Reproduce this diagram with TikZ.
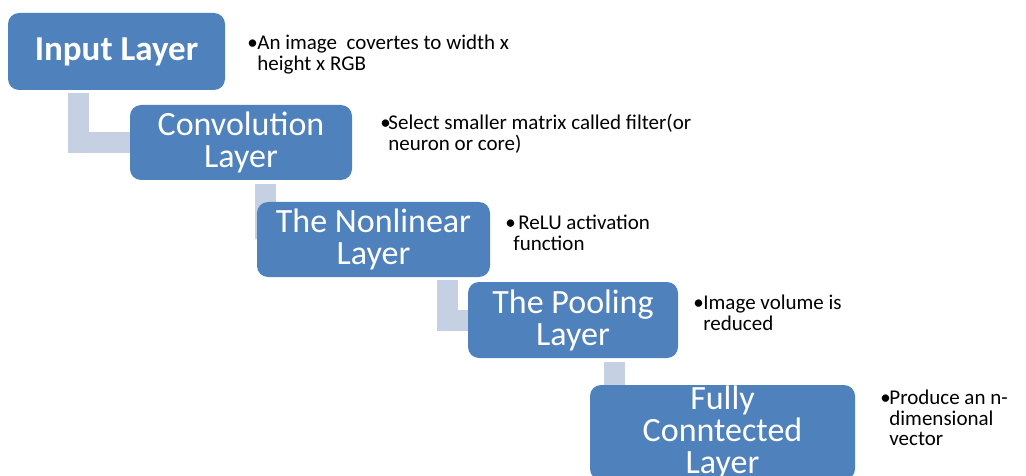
\documentclass[tikz,border=0pt]{standalone}
\usepackage{fontspec}
\setmainfont{Carlito}
\usepackage{tikz}
\usetikzlibrary{positioning, backgrounds}

\definecolor{layerblue}{RGB}{79,129,189}
\definecolor{barcolor}{RGB}{197,208,227}

\begin{document}
\begin{tikzpicture}[x=1pt, y=-1pt]
  \tikzstyle{layer}=[rounded corners=11pt, fill=layerblue, text=white, align=center,
  font=\fontsize{34}{32}\selectfont, inner sep=0pt]
  \tikzstyle{note}=[anchor=base west, align=left, inner sep=0pt,
  font=\fontsize{21}{20.5}\selectfont]
  \tikzstyle{bendbar}=[draw=barcolor, line width=21pt]

  \useasboundingbox (0, 0) rectangle (1026, 476);

  \node (inl) at (116.5, 51.5) [layer, minimum width=217pt, minimum height=77pt,
  font=\fontsize{35}{32}\selectfont\bfseries] {Input Layer};
  \node (conv) at (241, 142.5) [layer, minimum width=222pt, minimum height=75pt] {Convolution\\Layer};
  \node (nonlin) at (373.5, 239.5) [layer, minimum width=233pt, minimum height=75pt] {The Nonlinear\\Layer};
  \node (pool) at (573, 320) [layer, minimum width=210pt, minimum height=76pt] {The Pooling\\Layer};
  \node (fc) at (722.5, 432.5) [layer, minimum width=265pt, minimum height=95pt] {Fully\\Conntected\\Layer};

  \begin{scope}[on background layer]
    \draw [bendbar] ([xshift=71pt, yshift=-3pt]inl.south west) |- (conv.west);
    \draw [bendbar] ([xshift=136pt, yshift=-4pt]conv.south west) |- (nonlin.west);
    \draw [bendbar] ([xshift=191pt, yshift=-3pt]nonlin.south west) |- (pool.west);
    \draw [bendbar] ([xshift=147pt, yshift=-4pt]pool.south west) |- (fc.west);
  \end{scope}

  \node (inltxt) at ([xshift=22pt, yshift=-57.5pt]inl.north east) [note]
  {\makebox[10pt][l]{•}An image\ \ covertes to width x\\\hspace*{10pt}height x RGB};
  \node (convtxt) at ([xshift=28pt, yshift=-45.5pt]conv.north east) [note]
  {\makebox[8pt][l]{•}Select smaller matrix called filter(or\\\hspace*{8pt}neuron or core)};
  \node (nonlintxt) at ([xshift=15pt, yshift=-48.5pt]nonlin.north east) [note]
  {\makebox[8pt][l]{•}\hspace{5pt}ReLU activation\\\hspace*{8pt}function};
  \node (pooltxt) at ([xshift=15pt, yshift=-48.5pt]pool.north east) [note]
  {\makebox[10pt][l]{•}Image volume is\\\hspace*{10pt}reduced};
  \node (fctxt) at ([xshift=25pt, yshift=-61pt]fc.north east) [note]
  {\makebox[9pt][l]{•}Produce an n-\\\hspace*{9pt}dimensional\\\hspace*{9pt}vector};
\end{tikzpicture}
\end{document}
